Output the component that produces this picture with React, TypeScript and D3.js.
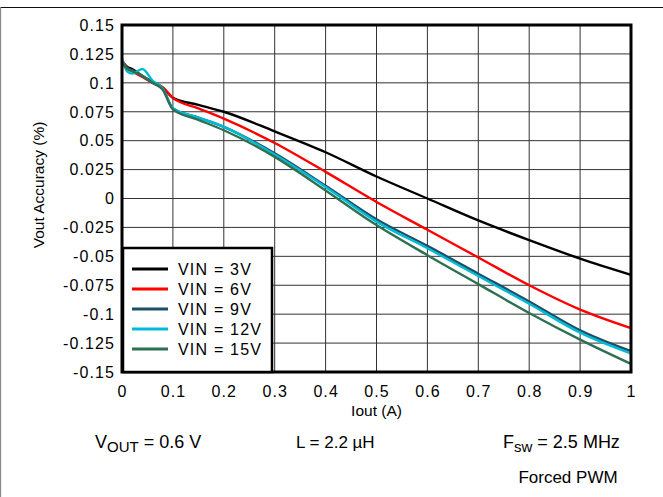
import * as d3 from 'd3';

// Iout (A) sample points shared by all series
const iout = [0, 0.01, 0.02, 0.04, 0.06, 0.08, 0.1, 0.15, 0.2, 0.3, 0.4, 0.5, 0.6, 0.7, 0.8, 0.9, 1.0];

const vin3 = [0.119, 0.114, 0.112, 0.106, 0.101, 0.096, 0.087, 0.081, 0.075, 0.058, 0.04, 0.019, 0.0, -0.019, -0.036, -0.052, -0.066];
const vin6 = [0.12, 0.113, 0.11, 0.105, 0.1, 0.096, 0.087, 0.078, 0.069, 0.048, 0.023, -0.003, -0.027, -0.051, -0.075, -0.096, -0.112];
const vin9 = [0.117, 0.113, 0.111, 0.106, 0.1, 0.095, 0.078, 0.07, 0.062, 0.039, 0.011, -0.018, -0.041, -0.065, -0.089, -0.114, -0.132];
const vin12 = [0.121, 0.11, 0.108, 0.112, 0.102, 0.095, 0.078, 0.07, 0.062, 0.038, 0.01, -0.02, -0.043, -0.067, -0.091, -0.116, -0.134];
const vin15 = [0.118, 0.112, 0.11, 0.106, 0.1, 0.094, 0.077, 0.068, 0.059, 0.036, 0.007, -0.023, -0.049, -0.074, -0.099, -0.122, -0.143];

const seriesNames = ['VIN = 3V', 'VIN = 6V', 'VIN = 9V', 'VIN = 12V', 'VIN = 15V'];
const seriesValues = [vin3, vin6, vin9, vin12, vin15];
const seriesColors = ['#000000', '#ff0000', '#1b4f66', '#00b9d6', '#2d7152'];

const xTicks = [0, 0.1, 0.2, 0.3, 0.4, 0.5, 0.6, 0.7, 0.8, 0.9, 1];
const xTickLabels = ['0', '0.1', '0.2', '0.3', '0.4', '0.5', '0.6', '0.7', '0.8', '0.9', '1'];
const yTicks = [0.15, 0.125, 0.1, 0.075, 0.05, 0.025, 0, -0.025, -0.05, -0.075, -0.1, -0.125, -0.15];
const yTickLabels = ['0.15', '0.125', '0.1', '0.075', '0.05', '0.025', '0', '-0.025', '-0.05', '-0.075', '-0.1', '-0.125', '-0.15'];

const W = 663;
const H = 497;
const PLOT = { left: 122, right: 631, top: 25, bottom: 372 };
const FONT = '"Liberation Sans", Arial, sans-serif';
const TICK_FS = 16;
const TICK_LS = 1.1;

export default function App() {
  const x = d3.scaleLinear().domain([0, 1]).range([PLOT.left, PLOT.right]);
  const y = d3.scaleLinear().domain([-0.15, 0.15]).range([PLOT.bottom, PLOT.top]);

  const line = d3
    .line<number>()
    .x((_, i) => x(iout[i]))
    .y((d) => y(d))
    .curve(d3.curveMonotoneX);

  const legend = { x: 123, y: 248, w: 149, rowY: 269, rowStep: 20 };

  return (
    <div style={{ position: 'absolute', left: 0, top: 0 }}>
      <svg width={W} height={H} style={{ display: 'block', fontFamily: FONT }}>
        <rect x={0} y={0} width={W} height={H} fill="#fff" />
        {/* outer frame pieces */}
        <line x1={0} x2={W} y1={7.5} y2={7.5} stroke="#111" strokeWidth={1.2} />
        <line x1={0.5} x2={0.5} y1={7} y2={H} stroke="#888" strokeWidth={1.2} />

        {/* grid */}
        {xTicks.slice(1, -1).map((t) => (
          <line key={'gx' + t} x1={x(t)} x2={x(t)} y1={PLOT.top} y2={PLOT.bottom} stroke="#333" strokeWidth={1} />
        ))}
        {yTicks.slice(1, -1).map((t) => (
          <line key={'gy' + t} x1={PLOT.left} x2={PLOT.right} y1={y(t)} y2={y(t)} stroke="#333" strokeWidth={1} />
        ))}

        {/* series */}
        {seriesValues.map((vals, i) => (
          <path key={seriesNames[i]} d={line(vals) || ''} fill="none" stroke={seriesColors[i]} strokeWidth={2.4} strokeLinejoin="round" />
        ))}

        {/* plot border */}
        <rect
          x={PLOT.left}
          y={PLOT.top}
          width={PLOT.right - PLOT.left}
          height={PLOT.bottom - PLOT.top}
          fill="none"
          stroke="#000"
          strokeWidth={3}
        />

        {/* legend */}
        <rect
          x={legend.x}
          y={legend.y}
          width={legend.w}
          height={PLOT.bottom - legend.y}
          fill="#fff"
          stroke="#000"
          strokeWidth={2.5}
        />
        {seriesNames.map((name, i) => {
          const ly = legend.rowY + i * legend.rowStep;
          return (
            <g key={'lg' + name}>
              <line x1={132} x2={168} y1={ly} y2={ly} stroke={seriesColors[i]} strokeWidth={3} />
              <text x={178} y={ly} dy="0.36em" fontSize={16} letterSpacing={1.2} fill="#000">
                {name}
              </text>
            </g>
          );
        })}

        {/* y tick labels */}
        {yTicks.map((t, i) => (
          <text
            key={'yt' + t}
            x={115}
            y={y(t)}
            dy="0.36em"
            textAnchor="end"
            fontSize={TICK_FS}
            letterSpacing={TICK_LS}
            fill="#000"
          >
            {yTickLabels[i]}
          </text>
        ))}
        {/* x tick labels */}
        {xTicks.map((t, i) => (
          <text
            key={'xt' + t}
            x={x(t) + TICK_LS / 2}
            y={391}
            dy="0.36em"
            textAnchor="middle"
            fontSize={TICK_FS}
            letterSpacing={TICK_LS}
            fill="#000"
          >
            {xTickLabels[i]}
          </text>
        ))}

        {/* axis titles */}
        <text x={(PLOT.left + PLOT.right) / 2} y={410} dy="0.36em" textAnchor="middle" fontSize={15.5} fill="#000">
          Iout (A)
        </text>
        <text
          transform="translate(38,185) rotate(-90)"
          textAnchor="middle"
          dy="0.36em"
          fontSize={15.5}
          fill="#000"
        >
          Vout Accuracy (%)
        </text>

        {/* conditions */}
        <text x={95} y={448} fontSize={18} fill="#000">
          V<tspan fontSize={15} dy={4}>OUT</tspan>
          <tspan dy={-4}> = 0.6 V</tspan>
        </text>
        <text x={296} y={448} fontSize={17} fill="#000">
          L = 2.2 µH
        </text>
        <text x={503} y={448} fontSize={18} fill="#000">
          F<tspan fontSize={15} dy={4}>sw</tspan>
          <tspan dy={-4}> = 2.5 MHz</tspan>
        </text>
        <text x={568} y={483} textAnchor="middle" fontSize={17} fill="#000">
          Forced PWM
        </text>
      </svg>
    </div>
  );
}
